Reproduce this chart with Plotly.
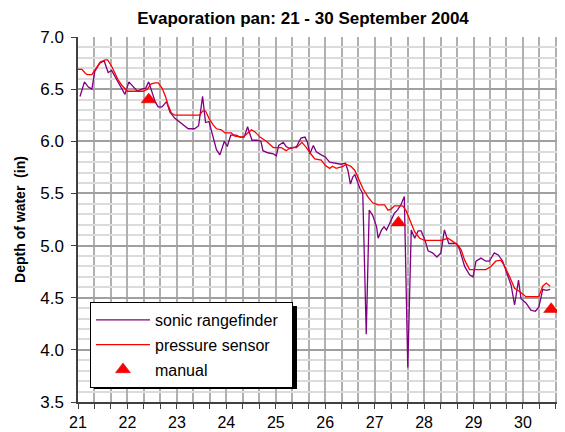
import plotly.graph_objects as go

# Sonic rangefinder (day of September, depth in inches)
sonic_day = [21.04, 21.13, 21.21, 21.28, 21.34, 21.44, 21.53, 21.61, 21.68, 21.78,
             21.88, 21.95, 22.03, 22.12, 22.20, 22.29, 22.37, 22.43, 22.50, 22.56,
             22.62, 22.70, 22.79, 22.86, 22.96, 23.09, 23.23, 23.36, 23.44, 23.52,
             23.58, 23.65, 23.73, 23.80, 23.87, 23.96, 24.02, 24.09, 24.20, 24.27,
             24.36, 24.43, 24.47, 24.52, 24.62, 24.70, 24.74, 24.84, 24.95, 25.01,
             25.06, 25.15, 25.21, 25.28, 25.35, 25.42, 25.51, 25.59, 25.64, 25.69,
             25.76, 25.82, 25.92, 26.00, 26.09, 26.20, 26.32, 26.41, 26.46, 26.51,
             26.56, 26.60, 26.65, 26.70, 26.76, 26.83, 26.89, 26.96, 27.04, 27.07,
             27.14, 27.19, 27.24, 27.34, 27.40, 27.46, 27.53, 27.60, 27.67, 27.74,
             27.81, 27.88, 27.94, 28.02, 28.08, 28.17, 28.26, 28.34, 28.41, 28.50,
             28.65, 28.72, 28.82, 28.92, 28.99, 29.05, 29.15, 29.25, 29.32, 29.42,
             29.50, 29.59, 29.69, 29.76, 29.83, 29.91, 29.96, 30.06, 30.16, 30.25,
             30.32, 30.40, 30.47, 30.55]
sonic_depth = [6.43, 6.57, 6.52, 6.50, 6.67, 6.75, 6.77, 6.66, 6.68, 6.59,
               6.51, 6.45, 6.57, 6.52, 6.48, 6.50, 6.51, 6.57, 6.46, 6.38,
               6.33, 6.33, 6.38, 6.28, 6.22, 6.17, 6.12, 6.12, 6.15, 6.43,
               6.18, 6.19, 6.04, 5.92, 5.87, 6.00, 5.95, 6.06, 6.06, 6.04,
               6.04, 6.14, 6.08, 6.01, 6.01, 6.00, 5.91, 5.89, 5.88, 5.86,
               5.96, 5.99, 5.95, 5.93, 5.94, 5.95, 6.03, 6.04, 5.99, 5.88,
               5.96, 5.90, 5.87, 5.85, 5.80, 5.79, 5.78, 5.79, 5.72, 5.59,
               5.66, 5.68, 5.62, 5.55, 5.50, 4.15, 5.34, 5.29, 5.18, 5.07,
               5.15, 5.18, 5.15, 5.26, 5.31, 5.34, 5.39, 5.47, 3.83, 5.15,
               5.07, 5.14, 5.14, 5.05, 4.95, 4.93, 4.89, 4.93, 5.15, 5.02,
               5.02, 4.96, 4.80, 4.72, 4.70, 4.85, 4.88, 4.85, 4.85, 4.93,
               4.91, 4.85, 4.72, 4.62, 4.43, 4.67, 4.49, 4.45, 4.38, 4.37,
               4.41, 4.58, 4.57, 4.58]

# Pressure sensor
press_day = [21.00, 21.08, 21.15, 21.19, 21.28, 21.36, 21.45, 21.55, 21.60, 21.68,
             21.75, 21.81, 21.88, 21.95, 22.00, 22.32, 22.40, 22.48, 22.56, 22.62,
             22.70, 22.77, 22.82, 22.89, 22.96, 23.46, 23.52, 23.58, 23.65, 23.73,
             23.80, 23.90, 23.97, 24.10, 24.17, 24.34, 24.42, 24.51, 24.58, 24.68,
             24.81, 24.95, 25.11, 25.21, 25.30, 25.42, 25.53, 25.62, 25.69, 25.79,
             25.92, 26.00, 26.09, 26.15, 26.22, 26.29, 26.36, 26.42, 26.52, 26.60,
             26.66, 26.76, 26.86, 26.96, 27.07, 27.20, 27.27, 27.33, 27.40, 27.57,
             27.64, 27.71, 27.81, 27.91, 28.01, 28.35, 28.48, 28.58, 28.69, 28.75,
             28.82, 28.92, 29.25, 29.35, 29.45, 29.55, 29.62, 29.73, 29.83, 29.93,
             30.06, 30.32, 30.40, 30.47, 30.55]
press_depth = [6.69, 6.69, 6.65, 6.64, 6.64, 6.70, 6.76, 6.78, 6.78, 6.72,
               6.64, 6.59, 6.54, 6.51, 6.48, 6.48, 6.50, 6.55, 6.56, 6.56,
               6.51, 6.43, 6.35, 6.27, 6.25, 6.25, 6.29, 6.29, 6.22, 6.16,
               6.12, 6.11, 6.08, 6.08, 6.05, 6.04, 6.07, 6.11, 6.09, 6.04,
               6.00, 5.94, 5.94, 5.91, 5.94, 5.94, 5.99, 5.94, 5.89, 5.83,
               5.82, 5.77, 5.74, 5.76, 5.74, 5.75, 5.76, 5.78, 5.76, 5.72,
               5.65, 5.55, 5.47, 5.41, 5.39, 5.39, 5.34, 5.35, 5.38, 5.38,
               5.33, 5.25, 5.13, 5.07, 5.05, 5.05, 5.07, 5.04, 5.00, 4.96,
               4.86, 4.77, 4.77, 4.80, 4.85, 4.86, 4.81, 4.70, 4.59, 4.56,
               4.51, 4.51, 4.61, 4.64, 4.61]

# Manual readings
manual_day = [22.43, 27.48, 30.57]
manual_depth = [6.40, 5.22, 4.39]

FONT = "Liberation Sans, Arial, sans-serif"

fig = go.Figure()
fig.add_trace(go.Scatter(x=sonic_day, y=sonic_depth, mode="lines",
                         name="sonic rangefinder\u00a0\u00a0", legendgroup="a",
                         line=dict(color="#800080", width=1.3)))
fig.add_trace(go.Scatter(x=press_day, y=press_depth, mode="lines",
                         name="pressure sensor", legendgroup="b",
                         line=dict(color="#FF0000", width=1.3)))
fig.add_trace(go.Scatter(x=manual_day, y=manual_depth, mode="markers",
                         name="manual", legendgroup="c", cliponaxis=False,
                         marker=dict(symbol="triangle-up", size=13, color="#FF0000",
                                     line=dict(color="#C00000", width=0.5))))

# legend shadow
fig.add_shape(type="rect", xref="paper", yref="paper",
              x0=0.0329, x1=0.4497, y0=0.0356, y1=0.263,
              fillcolor="black", line=dict(width=0), layer="above")

# page body has an 8px margin, so the figure is 8px smaller on each axis
fig.update_layout(
    width=557, height=424,
    margin=dict(l=70, r=0, t=29, b=30, autoexpand=False),
    paper_bgcolor="white", plot_bgcolor="white",
    font=dict(family=FONT, color="black"),
    title=dict(text="Evaporation pan: 21 - 30 September 2004",
               x=0.5296, xanchor="center", xref="container",
               y=0.9764, yanchor="middle",
               font=dict(size=17, weight="bold", family=FONT)),
    showlegend=True,
    legend=dict(x=0.0246, y=0.274, xanchor="left", yanchor="top",
                bgcolor="white", bordercolor="black", borderwidth=1,
                font=dict(size=16, family=FONT), tracegroupgap=1,
                traceorder="grouped", itemwidth=54),
    xaxis=dict(range=[21, 30.85], tick0=21, dtick=1, automargin=False,
               showgrid=True, gridcolor="#b0b0b0", gridwidth=1.5,
               ticks="outside", ticklen=5, tickcolor="#404040", tickwidth=1,
               showline=True, linecolor="#404040", linewidth=1.5,
               zeroline=False, tickfont=dict(size=16),
               minor=dict(tick0=21, dtick=1/3, showgrid=True, gridcolor="#b0b0b0",
                          gridwidth=1.5, ticks="outside", ticklen=5,
                          tickcolor="#404040")),
    yaxis=dict(range=[3.5, 7.0], tick0=3.5, dtick=0.5, tickformat=".1f",
               automargin=False,
               showgrid=True, gridcolor="#a0a0a0", gridwidth=1.5,
               ticks="outside", ticklen=5, tickcolor="#404040",
               showline=True, linecolor="#404040", linewidth=1.5,
               zeroline=False, tickfont=dict(size=17), ticklabelstandoff=4,
               title=dict(text="Depth of water\u00a0 (in)",
                          font=dict(size=14, weight="bold"), standoff=11),
               minor=dict(tick0=3.5, dtick=0.1, showgrid=True, gridcolor="#dcdcdc",
                          gridwidth=2)),
)

fig.write_html("out.html")
